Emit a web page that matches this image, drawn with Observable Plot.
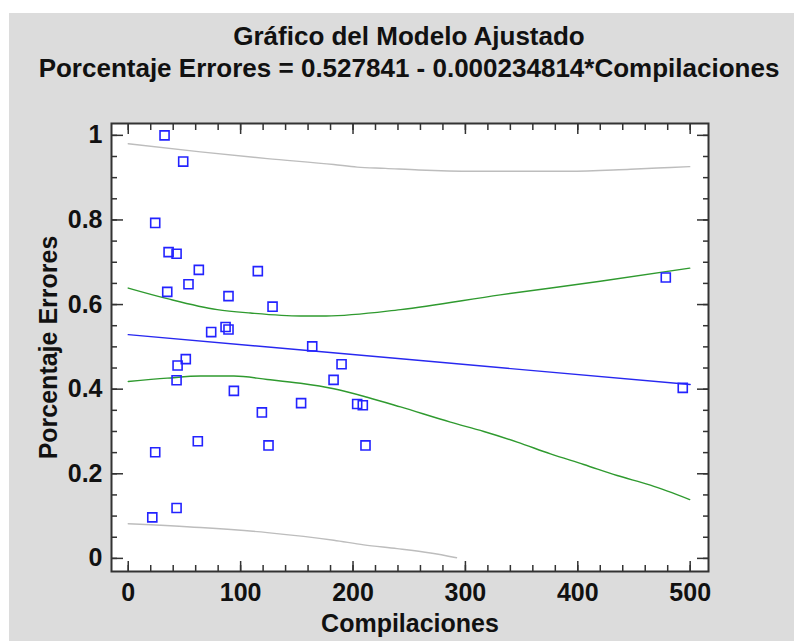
<!DOCTYPE html>
<html><head><meta charset="utf-8">
<script src="https://cdn.jsdelivr.net/npm/d3@7"></script>
<script src="https://cdn.jsdelivr.net/npm/@observablehq/plot@0.6"></script>
<style>
html,body{margin:0;padding:0;background:#fff;width:794px;height:641px;overflow:hidden;font-family:"Liberation Sans",Arial,sans-serif;}
#panel{position:absolute;left:9px;top:13px;right:0;bottom:0;background:#dcdcdc;}
.t{position:absolute;left:0;width:818px;text-align:center;font-weight:bold;font-size:26px;line-height:26px;color:#111;white-space:nowrap;}
#chart{position:absolute;left:0;top:100px;}
</style></head><body>
<div id="panel"></div>
<div class="t" style="top:23px">Gráfico del Modelo Ajustado</div>
<div class="t" style="top:55px">Porcentaje Errores = 0.527841 - 0.000234814*Compilaciones</div>
<div id="chart"></div>
<script>
// Observed points
const compilaciones = [32.3, 48.9, 24.0, 35.9, 43.0, 62.8, 115.3, 53.6, 34.7, 89.2, 128.4, 73.8, 86.6, 89.2, 163.7, 478.3, 493.4, 189.8, 182.7, 203.7, 208.7, 211.1, 153.8, 51.2, 43.9, 43.0, 94.0, 118.9, 61.9, 124.8, 24.0, 43.0, 21.4];
const porcentajeErrores = [1.000, 0.938, 0.793, 0.724, 0.720, 0.682, 0.679, 0.648, 0.630, 0.620, 0.595, 0.535, 0.547, 0.541, 0.501, 0.664, 0.403, 0.459, 0.422, 0.365, 0.362, 0.267, 0.367, 0.471, 0.456, 0.421, 0.396, 0.345, 0.277, 0.267, 0.251, 0.119, 0.097];

// Fitted line
const ajusteX = [0, 250, 500];
const ajusteY = [0.529, 0.470, 0.411];

// Confidence limits (green)
const confSupX = [0, 34.7, 79.2, 108.8, 153.3, 176, 242.3, 331, 420, 499.6];
const confSupY = [0.639, 0.614, 0.588, 0.580, 0.573, 0.573, 0.588, 0.623, 0.655, 0.686];
const confInfX = [0, 34.7, 64.3, 94, 123.7, 153.3, 182.9, 212.6, 242.3, 286.7, 316.4, 346.1, 375.7, 405.3, 435, 464.6, 499.6];
const confInfY = [0.418, 0.426, 0.431, 0.431, 0.423, 0.414, 0.401, 0.381, 0.358, 0.322, 0.300, 0.275, 0.247, 0.222, 0.196, 0.173, 0.139];

// Prediction limits (gray)
const predSupX = [0, 64.3, 123.7, 182.9, 203.7, 228.9, 258.5, 307.5, 391.7, 446.9, 482.5, 499.6];
const predSupY = [0.980, 0.961, 0.945, 0.931, 0.925, 0.922, 0.918, 0.915, 0.915, 0.920, 0.924, 0.926];
const predInfX = [0, 64.3, 123.7, 182.9, 209.6, 239.3, 268.9, 292.1];
const predInfY = [0.082, 0.073, 0.061, 0.043, 0.032, 0.023, 0.0126, 0.0016];

// Ticks
const xTicks = [0, 100, 200, 300, 400, 500];
const yTicks = [0, 0.2, 0.4, 0.6, 0.8, 1];
const xMinor = d3.range(0, 501, 20);
const yMinor = d3.range(0, 21).map(i => i * 0.05);

const pts = compilaciones.map((x, i) => ({x, y: porcentajeErrores[i]}));
const tbl = (xs, ys) => xs.map((x, i) => ({x, y: ys[i]}));

const tickStyle = {stroke: "#333", strokeWidth: 1.5, label: null, tickFormat: () => ""};
const textStyle = {tickSize: 0, fontSize: 25, fontWeight: "bold", fill: "#111", label: null, tickFormat: d => `${d}`};

const chart = Plot.plot({
  width: 794, height: 541,
  marginLeft: 111, marginRight: 86, marginTop: 23, marginBottom: 70,
  x: {domain: [-14.9, 516.3]},
  y: {domain: [-0.031, 1.028]},
  style: {background: "transparent", fontFamily: "'Liberation Sans', Arial, sans-serif", overflow: "visible"},
  marks: [
    Plot.frame({fill: "white", stroke: "none"}),
    Plot.line(tbl(predSupX, predSupY), {x: "x", y: "y", stroke: "#bdbdbd", strokeWidth: 1.4, curve: "monotone-x"}),
    Plot.line(tbl(predInfX, predInfY), {x: "x", y: "y", stroke: "#bdbdbd", strokeWidth: 1.4, curve: "monotone-x"}),
    Plot.line(tbl(confSupX, confSupY), {x: "x", y: "y", stroke: "#2f9a2f", strokeWidth: 1.4, curve: "monotone-x"}),
    Plot.line(tbl(confInfX, confInfY), {x: "x", y: "y", stroke: "#2f9a2f", strokeWidth: 1.4, curve: "monotone-x"}),
    Plot.line(tbl(ajusteX, ajusteY), {x: "x", y: "y", stroke: "#2828f0", strokeWidth: 1.4}),
    Plot.dot(pts, {x: "x", y: "y", symbol: "square", r: 5.1, stroke: "#2323ff", strokeWidth: 1.6, fill: "none"}),
    Plot.axisX(xMinor, {anchor: "bottom", tickSize: -6, ...tickStyle}),
    Plot.axisX(xTicks, {anchor: "bottom", tickSize: -10, ...tickStyle}),
    Plot.axisX(xMinor, {anchor: "top", tickSize: -6, ...tickStyle}),
    Plot.axisX(xTicks, {anchor: "top", tickSize: -10, ...tickStyle}),
    Plot.axisY(yMinor, {anchor: "left", tickSize: -6, ...tickStyle}),
    Plot.axisY(yTicks, {anchor: "left", tickSize: -12, ...tickStyle}),
    Plot.axisY(yMinor, {anchor: "right", tickSize: -6, ...tickStyle}),
    Plot.axisY(yTicks, {anchor: "right", tickSize: -12, ...tickStyle}),
    Plot.axisX(xTicks, {anchor: "bottom", tickPadding: 12, ...textStyle}),
    Plot.axisY(yTicks, {anchor: "left", tickPadding: 9, ...textStyle}),
    Plot.text(["Compilaciones"], {text: d => d, frameAnchor: "bottom", textAnchor: "middle", lineAnchor: "middle", dy: 52, fontSize: 25, fontWeight: "bold", fill: "#111"}),
    Plot.text(["Porcentaje Errores"], {text: d => d, frameAnchor: "left", textAnchor: "middle", lineAnchor: "middle", rotate: -90, dx: -63, fontSize: 25, fontWeight: "bold", fill: "#111"}),
    Plot.frame({stroke: "#333", strokeWidth: 2})
  ]
});
document.getElementById("chart").appendChild(chart);
</script>
</body></html>
